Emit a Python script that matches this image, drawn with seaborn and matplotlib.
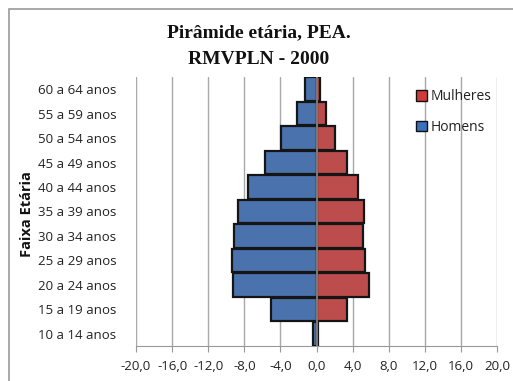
import matplotlib
matplotlib.use("Agg")
import matplotlib.pyplot as plt
import seaborn as sns
import pandas as pd
from matplotlib.patches import Patch, Rectangle

age_groups = ["60 a 64 anos", "55 a 59 anos", "50 a 54 anos", "45 a 49 anos",
              "40 a 44 anos", "35 a 39 anos", "30 a 34 anos", "25 a 29 anos",
              "20 a 24 anos", "15 a 19 anos", "10 a 14 anos"]
homens = [1.3, 2.2, 3.9, 5.7, 7.6, 8.7, 9.1, 9.4, 9.3, 5.0, 0.4]
mulheres = [0.4, 1.0, 2.1, 3.4, 4.6, 5.3, 5.2, 5.4, 5.8, 3.4, 0.2]
x_ticks = [-20, -16, -12, -8, -4, 0, 4, 8, 12, 16, 20]
x_tick_labels = ["-20,0", "-16,0", "-12,0", "-8,0", "-4,0", "0,0", "4,0", "8,0", "12,0", "16,0", "20,0"]

df = pd.concat([
    pd.DataFrame({"Faixa": age_groups, "valor": [-v for v in homens], "Sexo": "Homens"}),
    pd.DataFrame({"Faixa": age_groups, "valor": mulheres, "Sexo": "Mulheres"}),
])

sns.set_style("white")
plt.rcParams['font.family'] = ['Open Sans', 'DejaVu Sans']

fig = plt.figure(figsize=(5.13, 3.81), dpi=100)
ax = fig.add_axes([136/513, 35/381, 361/513, 269/381])

colors = {"Homens": "#3A70BE", "Mulheres": "#D03A3A"}
sns.barplot(data=df, y="Faixa", x="valor", hue="Sexo", order=age_groups,
            palette=colors, dodge=False, width=0.96, orient="h",
            edgecolor="#151515", linewidth=1.6, ax=ax, legend=False, zorder=3)

ax.set_xlim(-20, 20)
ax.set_xticks(x_ticks)
ax.set_xticklabels(x_tick_labels, fontsize=9.5, color="#222222")
ax.tick_params(axis="y", labelsize=9.5, labelcolor="#222222", length=0, pad=14)
ax.tick_params(axis="x", length=4, color="#999999", direction="out", bottom=True, pad=6)
ax.grid(axis="x", color="#a8a8a8", linewidth=1, zorder=0)
ax.set_axisbelow(True)
ax.axvline(0, color="#8c8c8c", linewidth=1.2, zorder=4)
for s in ["top", "right"]:
    ax.spines[s].set_visible(False)
ax.spines["left"].set_visible(False)
ax.spines["bottom"].set_color("#999999")
ax.set_xlabel("")
ax.set_ylabel("Faixa Etária", fontsize=10.5, fontweight="bold", color="#111111")
ax.yaxis.set_label_coords(-0.283, 0.49)

handles = [Patch(facecolor=colors["Mulheres"], edgecolor="#111111", label="Mulheres"),
           Patch(facecolor=colors["Homens"], edgecolor="#111111", label="Homens")]
ax.legend(handles=handles, loc="upper left", bbox_to_anchor=(0.74, 1.0), frameon=False,
          fontsize=10, handlelength=0.8, handleheight=0.8, handletextpad=0.3,
          labelspacing=1.1, labelcolor="#222222")

fig.text(0.505, 1 - 33/381, "Pirâmide etária, PEA.", ha="center", va="center",
         family="Liberation Serif", fontweight="bold", fontsize=14, color="#111111")
fig.text(0.505, 1 - 59/381, "RMVPLN - 2000", ha="center", va="center",
         family="Liberation Serif", fontweight="bold", fontsize=14, color="#111111")

fig.patches.append(Rectangle((9/513, -0.1), 1.2, (381-9)/381 + 0.1, transform=fig.transFigure,
                             fill=False, edgecolor="#999999", linewidth=1.2))

fig.savefig("out.png", dpi=100)
